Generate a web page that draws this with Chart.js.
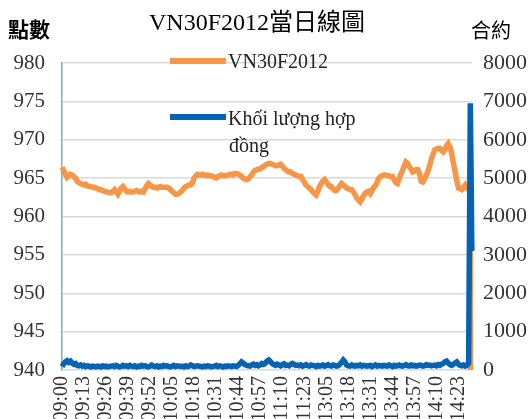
<!DOCTYPE html>
<html>
<head>
<meta charset="utf-8">
<style>
  html, body { margin: 0; padding: 0; background: #fff; }
  #wrap { width: 530px; height: 419px; }
</style>
<script src="https://cdn.jsdelivr.net/npm/chart.js@4/dist/chart.umd.min.js"></script>
</head>
<body>
<div id="wrap"><canvas id="intraday"></canvas></div>
<script>
(function () {
    "use strict";

    /** Trading sessions (minute bars) */
    var sessions = [['09:00', '11:30'], ['13:00', '14:30'], ['14:45', '14:45']];

    /** VN30F2012 price, one value per minute */
    var priceValues = [
        966.4, 966.0, 965.5, 965.1, 965.3, 965.5, 965.4, 965.2, 965.0, 964.6,
        964.4, 964.3, 964.2, 964.1, 964.2, 964.0, 963.9, 963.9, 963.8, 963.8,
        963.7, 963.6, 963.5, 963.5, 963.4, 963.3, 963.2, 963.2, 963.1, 963.1,
        963.3, 963.5, 963.2, 962.9, 963.3, 963.7, 963.9, 963.6, 963.3, 963.2,
        963.3, 963.2, 963.2, 963.3, 963.4, 963.3, 963.2, 963.3, 963.2, 963.6,
        964.0, 964.3, 964.1, 963.9, 963.8, 963.8, 963.7, 963.8, 963.9, 963.8,
        963.8, 963.8, 963.8, 963.7, 963.5, 963.3, 963.1, 962.9, 962.9, 963.0,
        963.2, 963.4, 963.7, 963.9, 964.0, 964.1, 964.1, 964.4, 965.0, 965.3,
        965.5, 965.4, 965.4, 965.5, 965.4, 965.3, 965.4, 965.3, 965.3, 965.2,
        965.1, 965.0, 965.2, 965.3, 965.4, 965.3, 965.3, 965.3, 965.4, 965.5,
        965.5, 965.4, 965.6, 965.6, 965.5, 965.4, 965.2, 965.0, 964.9, 964.8,
        964.9, 965.2, 965.4, 965.8, 966.0, 966.1, 966.2, 966.2, 966.4, 966.5,
        966.7, 966.8, 966.9, 966.9, 966.8, 966.7, 966.6, 966.6, 966.7, 966.8,
        966.6, 966.3, 966.1, 965.9, 965.8, 965.8, 965.6, 965.5, 965.4, 965.3,
        965.2, 965.2, 964.8, 964.5, 964.1, 963.9, 963.7, 963.5, 963.2, 963.0,
        962.8, 963.3, 963.9, 964.3, 964.6, 964.8, 964.5, 964.2, 963.9, 963.9,
        963.6, 963.4, 963.4, 963.7, 964.0, 964.3, 964.1, 963.9, 963.7, 963.6,
        963.5, 963.5, 963.2, 962.8, 962.4, 962.1, 961.9, 962.3, 962.7, 963.0,
        963.2, 963.3, 963.0, 963.4, 963.8, 964.0, 964.5, 965.0, 965.2, 965.3,
        965.4, 965.4, 965.3, 965.3, 965.2, 965.2, 964.8, 964.4, 964.3, 964.9,
        965.5, 966.0, 966.6, 967.1, 966.9, 966.5, 966.2, 965.8, 965.9, 966.1,
        966.1, 965.6, 964.6, 964.5, 964.9, 965.4, 965.9, 966.6, 967.5, 968.1,
        968.7, 968.8, 968.9, 968.9, 968.6, 968.4, 968.7, 969.2, 969.5, 969.1,
        968.2, 967.0, 965.8, 964.7, 963.7, 963.6, 963.5, 963.8, 964.1, 963.7,
        963.5, 963.6, 0
    ];

    /** Contracts traded, one value per minute */
    var volumeValues = [
        90, 160, 210, 240, 200, 230, 180, 150, 170, 120,
        110, 130, 100, 120, 90, 110, 100, 80, 100, 90,
        80, 100, 90, 80, 110, 90, 100, 80, 90, 100,
        110, 90, 120, 100, 80, 90, 120, 100, 110, 90,
        120, 100, 90, 110, 80, 100, 90, 120, 100, 110,
        90, 80, 100, 130, 100, 90, 110, 80, 100, 90,
        120, 100, 110, 90, 80, 100, 120, 90, 110, 100,
        90, 100, 80, 110, 90, 100, 130, 110, 90, 100,
        110, 100, 90, 80, 100, 90, 110, 100, 80, 90,
        100, 120, 90, 110, 100, 80, 100, 90, 110, 100,
        90, 110, 100, 90, 120, 160, 210, 180, 140, 120,
        110, 100, 130, 150, 120, 140, 110, 130, 170, 150,
        180, 230, 260, 220, 170, 140, 120, 150, 130, 110,
        140, 160, 120, 130, 110, 150, 170, 140, 120, 130,
        110, 130, 100, 120, 140, 110, 100, 130, 120, 110,
        90, 120, 100, 110, 130, 100, 120, 140, 110, 100,
        130, 120, 100, 110, 150, 200, 260, 210, 130, 110,
        100, 130, 110, 100, 120, 110, 130, 100, 120, 110,
        100, 110, 120, 90, 110, 130, 100, 120, 110, 100,
        120, 110, 100, 130, 110, 90, 120, 100, 110, 130,
        110, 100, 120, 140, 110, 100, 130, 110, 120, 100,
        110, 130, 120, 100, 110, 140, 120, 130, 110, 120,
        130, 110, 140, 120, 150, 170, 210, 230, 180, 140,
        120, 150, 180, 210, 150, 120, 110, 130, 100, 120,
        180, 6950, 3100
    ];

    var labelEvery = 13;
    var priceLabel = 'VN30F2012';
    var volumeLabel = ['Khối lượng hợp', 'đồng'];

    var serif = "'Liberation Serif', 'Times New Roman', serif";
    var cjk = "'Noto Sans CJK TC', 'Noto Sans CJK SC', sans-serif";
    var orange = '#F79646';
    var blue = '#0563B4';

    function pad(n) { return (n < 10 ? '0' : '') + n; }
    function toMin(t) { var p = t.split(':'); return (+p[0]) * 60 + (+p[1]); }

    /** Minute labels for every session */
    var timeLabels = [];
    sessions.forEach(function (s) {
        for (var m = toMin(s[0]); m <= toMin(s[1]); m++) {
            timeLabels.push(pad(Math.floor(m / 60)) + ':' + pad(m % 60));
        }
    });

    /** Title, axis captions and the in-plot legend */
    var decorations = {
        id: 'decorations',
        afterDraw: function (chart) {
            var c = chart.ctx;
            c.save();
            c.fillStyle = '#000';
            c.textBaseline = 'middle';

            c.textAlign = 'center';
            c.font = "24px " + serif + ", " + cjk;
            c.fillText('VN30F2012當日線圖', 257, 24);

            c.textAlign = 'left';
            c.font = "bold 21px " + cjk;
            c.fillText('點數', 8, 29);
            c.font = "20px " + cjk;
            c.fillText('合約', 471, 30);

            c.lineCap = 'butt';
            c.lineWidth = 6;
            c.strokeStyle = orange;
            c.beginPath(); c.moveTo(170, 61); c.lineTo(226, 61); c.stroke();
            c.strokeStyle = blue;
            c.beginPath(); c.moveTo(170, 117); c.lineTo(226, 117); c.stroke();

            c.fillStyle = '#222';
            c.font = "20px " + serif;
            c.fillText(priceLabel, 228, 63);
            c.fillText(volumeLabel[0], 228, 120);
            c.fillText(volumeLabel[1], 229, 147);
            c.restore();
        }
    };

    var ctx = document.getElementById('intraday').getContext('2d');
    var intradayChart = new Chart(ctx, {
        type: 'line',
        data: {
            labels: timeLabels,
            datasets: [{
                label: priceLabel,
                data: priceValues,
                yAxisID: 'y',
                borderColor: orange,
                backgroundColor: orange,
                borderWidth: 5.5,
                pointRadius: 0,
                tension: 0,
                order: 2
            }, {
                label: volumeLabel.join(' '),
                data: volumeValues,
                yAxisID: 'y1',
                borderColor: blue,
                backgroundColor: blue,
                borderWidth: 5.5,
                pointRadius: 0,
                tension: 0,
                order: 1
            }]
        },
        options: {
            responsive: true,
            maintainAspectRatio: false,
            animation: false,
            layout: { padding: { top: 63, left: 0, right: 0, bottom: 0 } },
            plugins: {
                legend: { display: false },
                title: { display: false },
                tooltip: { enabled: false }
            },
            scales: {
                x: {
                    offset: false,
                    grid: { display: false, drawTicks: false },
                    border: { display: false },
                    ticks: {
                        autoSkip: false,
                        minRotation: 90,
                        maxRotation: 90,
                        padding: 6,
                        color: '#333',
                        font: { family: serif, size: 20 },
                        callback: function (value, index) {
                            return index % labelEvery === 0 ? this.getLabelForValue(value) : null;
                        }
                    },
                    afterFit: function (scale) { scale.height = 49; }
                },
                y: {
                    position: 'left',
                    min: 940,
                    max: 980,
                    grid: { color: '#d9d9d9', lineWidth: 1.5, drawTicks: false },
                    border: { display: true, color: '#7aa6da', width: 1.5 },
                    ticks: {
                        stepSize: 5,
                        padding: 17,
                        color: '#333',
                        font: { family: serif, size: 21 }
                    },
                    afterFit: function (scale) { scale.width = 62; }
                },
                y1: {
                    position: 'right',
                    min: 0,
                    max: 8000,
                    grid: { display: false, drawTicks: false },
                    border: { display: false },
                    ticks: {
                        stepSize: 1000,
                        padding: 11,
                        color: '#333',
                        font: { family: serif, size: 22 },
                        callback: function (value) { return String(value); }
                    },
                    afterFit: function (scale) { scale.width = 58; }
                }
            }
        },
        plugins: [decorations]
    });
})();
</script>
</body>
</html>
